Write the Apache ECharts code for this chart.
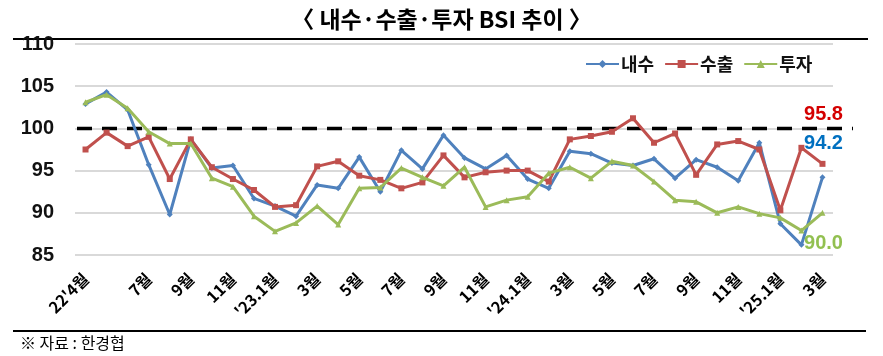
<!DOCTYPE html>
<html><head><meta charset="utf-8">
<script src="https://cdn.jsdelivr.net/npm/echarts@6/dist/echarts.min.js"></script>
<style>html,body{margin:0;padding:0;background:#fff}#c{width:883px;height:356px}</style>
</head><body><div id="c"></div>
<script>
// ---- data ----
const categories = ["22'4월","5월","6월","7월","8월","9월","10월","11월","12월",
  "'23.1월","2월","3월","4월","5월","6월","7월","8월","9월","10월","11월","12월",
  "'24.1월","2월","3월","4월","5월","6월","7월","8월","9월","10월","11월","12월",
  "'25.1월","2월","3월"];
const seriesNames = ["내수","수출","투자"];
const domestic = [102.9,104.3,102.2,95.7,89.8,98.7,95.3,95.6,91.7,90.8,89.6,93.3,92.9,96.6,92.5,97.4,95.2,99.2,96.5,95.2,96.8,94.0,92.9,97.3,97.0,95.9,95.6,96.4,94.1,96.3,95.4,93.8,98.3,88.7,86.2,94.2];
const exportsBsi = [97.5,99.5,97.9,99.0,94.0,98.7,95.4,94.0,92.7,90.7,90.9,95.5,96.1,94.4,93.9,92.9,93.6,96.8,94.2,94.8,95.0,95.0,93.7,98.7,99.1,99.6,101.2,98.3,99.4,94.5,98.1,98.5,97.5,90.3,97.7,95.8];
const investment = [103.1,104.0,102.4,99.6,98.2,98.2,94.1,93.1,89.6,87.8,88.8,90.8,88.6,92.9,93.0,95.3,94.2,93.2,95.4,90.7,91.5,91.9,94.7,95.4,94.1,96.1,95.6,93.7,91.5,91.3,90.0,90.7,89.9,89.4,87.9,90.0];
const yMin = 85, yMax = 110, yStep = 5;
const referenceLevel = 100;
const titleText = "〈 내수·수출·투자 BSI 추이 〉";
const sourceText = "※ 자료 : 한경협";

// ---- chart ----
const chart = echarts.init(document.getElementById('c'));
const colors = ['#4F81BD', '#C0504D', '#9BBB59'];
const symbols = ['diamond', 'rect', 'triangle'];
const endLabels = [
  {position:'top', offset:[1,-16], color:'#0070C0'},
  {position:'top', offset:[1,-31], color:'#D40000'},
  {position:'bottom', offset:[1,13], color:'#92C050'}
];
function withEndLabel(arr, lab) {
  return arr.map((v, i) => i === arr.length - 1 ? {
    value: v,
    label: {show: true, position: lab.position, offset: lab.offset, color: lab.color,
      fontSize: 20, fontWeight: 'bold', fontFamily: 'Liberation Sans, Arial, sans-serif',
      formatter: p => p.value.toFixed(1)}
  } : v);
}
const dataSets = [domestic, exportsBsi, investment];
const lineSeries = dataSets.map((arr, k) => ({
  name: seriesNames[k], type: 'line', xAxisIndex: 0, yAxisIndex: 0,
  data: withEndLabel(arr, endLabels[k]),
  symbol: symbols[k], symbolSize: 6, showAllSymbol: true,
  lineStyle: {width: 3, color: colors[k]},
  itemStyle: {color: colors[k]},
  z: 3 + k, animation: false
}));

const option = {
  animation: false,
  title: {text: titleText, left: 'center', top: 3,
    textStyle: {fontSize: 23, fontWeight: 'bold', color: '#000', fontFamily: 'Noto Sans CJK KR'}},
  legend: {data: seriesNames, left: 580, top: 50, itemWidth: 33, itemHeight: 10, itemGap: 10,
    textStyle: {fontSize: 18, fontWeight: 'bold', color: '#111', fontFamily: 'Noto Sans CJK KR', padding: [0,0,0,-3]}},
  grid: [
    {left: 75, right: 50, top: 44, bottom: 101},
    {left: 77, right: 30, top: 44, bottom: 101}
  ],
  xAxis: [
    {type: 'category', gridIndex: 0, data: categories, boundaryGap: true,
      axisLine: {show: false}, axisTick: {show: false},
      axisLabel: {rotate: 45, margin: 21, fontSize: 16, fontWeight: 'bold', color: '#000',
        fontFamily: 'Noto Sans CJK KR',
        interval: (i) => i === 0 || (i >= 3 && i % 2 === 1)}},
    {type: 'value', gridIndex: 1, min: 0, max: 1, show: false}
  ],
  yAxis: [
    {type: 'value', gridIndex: 0, min: yMin, max: yMax, interval: yStep,
      axisLine: {show: false}, axisTick: {show: false},
      splitLine: {lineStyle: {color: '#d9d9d9', width: 2}},
      axisLabel: {margin: 21, fontSize: 20, color: '#111', fontWeight: 'bold',
        fontFamily: 'Liberation Sans Narrow, Liberation Sans, Arial, sans-serif'}},
    {type: 'value', gridIndex: 1, min: yMin, max: yMax, show: false}
  ],
  series: [
    {type: 'line', xAxisIndex: 1, yAxisIndex: 1, data: [[0, referenceLevel], [1, referenceLevel]],
      symbol: 'none', lineStyle: {type: [15, 10], width: 3.5, color: '#000'}, silent: true, z: 2},
    ...lineSeries
  ],
  graphic: [
    {type: 'line', shape: {x1: 13, y1: 39, x2: 868, y2: 39}, style: {stroke: '#000', lineWidth: 2}},
    {type: 'line', shape: {x1: 13, y1: 331, x2: 866, y2: 331}, style: {stroke: '#000', lineWidth: 2}},
    {type: 'text', left: 20, top: 335, style: {text: sourceText, fontSize: 16, fill: '#000',
      fontFamily: 'Noto Sans CJK KR'}}
  ]
};
chart.setOption(option);
</script></body></html>
